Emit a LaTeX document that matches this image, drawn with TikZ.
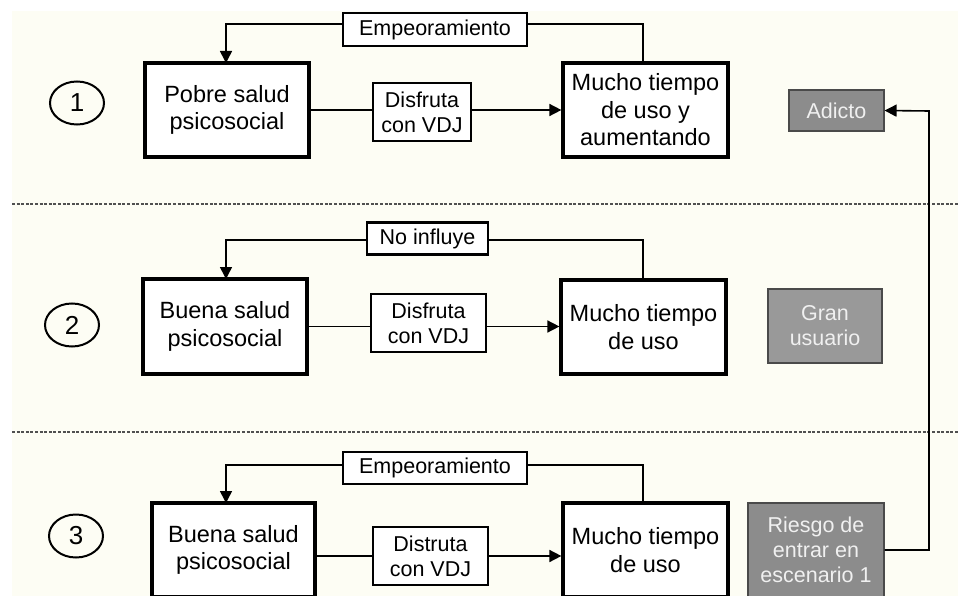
\documentclass[tikz,border=0pt]{standalone}
\usepackage{fontspec}
\setmainfont{Liberation Sans}
\usetikzlibrary{shapes.geometric,arrows.meta,calc}
\definecolor{cream}{HTML}{FDFDF4}
\definecolor{boxgray}{HTML}{8C8C8C}
\definecolor{boxgraylight}{HTML}{999999}
\definecolor{graybord}{HTML}{4A4A4A}
\definecolor{dashgray}{HTML}{505050}
\begin{document}
\begin{tikzpicture}[x=1pt,y=-1pt,
  bigbox/.style={draw,line width=3.2pt,fill=white,align=center,inner sep=0pt,
     font=\fontsize{23.5}{27.5}\selectfont},
  smallbox/.style={draw,line width=2.8pt,fill=white,align=center,inner sep=0pt,
     font=\fontsize{21.5}{25}\selectfont},
  graybox/.style={draw=graybord,line width=1.1pt,fill=boxgray,text=white!94!black,align=center,inner sep=0pt,
     font=\fontsize{21.5}{25}\selectfont},
  numcirc/.style={draw,ellipse,line width=2pt,inner sep=0pt,minimum width=54pt,minimum height=43pt,
     font=\fontsize{26}{30}\selectfont},
  conn/.style={line width=1.6pt},
  arr/.style={line width=1.6pt,-{Triangle[length=12pt,width=12pt]}},
  sepline/.style={dashgray,line width=2pt,dash pattern=on 3pt off 1.6pt}
]
\clip (0,0) rectangle (958,596);
\fill[white] (0,0) rectangle (958,596);
\fill[cream] (12,11) rectangle (958,596);

% separators
\draw[sepline] (12,204) -- (958,204);
\draw[sepline] (12,432) -- (958,432);

% ---------- Scenario 1
\node[numcirc] (c1) at (77,103) {1};
\node[bigbox,minimum width=164pt,minimum height=94pt] (p1) at (227,110) {Pobre salud\\psicosocial};
\node[smallbox,minimum width=98pt,minimum height=58pt] (d1) at (422,112) {Disfruta\\con VDJ};
\node[bigbox,minimum width=165pt,minimum height=94pt] (m1) at (645.5,110) {Mucho tiempo\\de uso y\\aumentando};
\node[smallbox,minimum width=184pt,minimum height=33pt] (e1) at (435,29.5) {Empeoramiento};
\node[graybox,minimum width=95pt,minimum height=41pt] (a1) at (836.5,110.5) {Adicto};
\coordinate (k1) at (226,63);
\coordinate (q1) at (643,63);
\draw[arr] ([yshift=5.5pt]e1.west) -| (k1);
\draw[conn] ([yshift=5.5pt]e1.east) -| (q1);
\draw[conn] (p1.east) -- (p1.east -| d1.west);
\draw[arr] (d1.east |- p1.east) -- (m1.west);

% ---------- Scenario 2
\node[numcirc] (c2) at (72,325) {2};
\node[bigbox,minimum width=164pt,minimum height=95pt] (b2) at (225,326.5) {Buena salud\\psicosocial};
\node[smallbox,minimum width=115pt,minimum height=58pt] (d2) at (428.5,323) {Disfruta\\con VDJ};
\node[bigbox,minimum width=165pt,minimum height=94pt] (m2) at (643.5,327) {Mucho tiempo\\de uso};
\node[smallbox,minimum width=121pt,minimum height=32pt] (n2) at (427.5,238.5) {No influye};
\node[graybox,fill=boxgraylight,minimum width=114pt,minimum height=74pt] (g2) at (825,326) {Gran\\usuario};
\coordinate (k2) at (226,279);
\coordinate (q2) at (643,280);
\draw[arr] ([yshift=-1.5pt]n2.west) -| (k2);
\draw[conn] ([yshift=-1.5pt]n2.east) -| (q2);
\draw[conn] (b2.east) -- (b2.east -| d2.west);
\draw[arr] (d2.east |- b2.east) -- (b2.east -| m2.west);

% ---------- Scenario 3
\node[numcirc] (c3) at (76,536) {3};
\node[bigbox,minimum width=163pt,minimum height=94pt] (b3) at (233.5,550) {Buena salud\\psicosocial};
\node[smallbox,minimum width=115pt,minimum height=58pt] (t3) at (430.5,556) {Distruta\\con VDJ};
\node[bigbox,minimum width=165pt,minimum height=94pt] (m3) at (645.5,550) {Mucho tiempo\\de uso};
\node[smallbox,minimum width=184pt,minimum height=32pt] (e3) at (435,468) {Empeoramiento};
\node[graybox,minimum width=136pt,minimum height=94pt] (r3) at (816,550) {Riesgo de\\entrar en\\escenario 1};
\coordinate (k3) at (226,503);
\coordinate (q3) at (643,503);
\coordinate (up) at (929,111);
\draw[arr] ([yshift=3pt]e3.west) -| (k3);
\draw[conn] ([yshift=3pt]e3.east) -| (q3);
\draw[conn] (t3.west -| b3.east) -- (t3.west);
\draw[arr] (t3.east) -- (t3.east -| m3.west);

% risk -> addicted
\draw[arr] (r3.east) -| (up) -- (a1.east);
\end{tikzpicture}
\end{document}
